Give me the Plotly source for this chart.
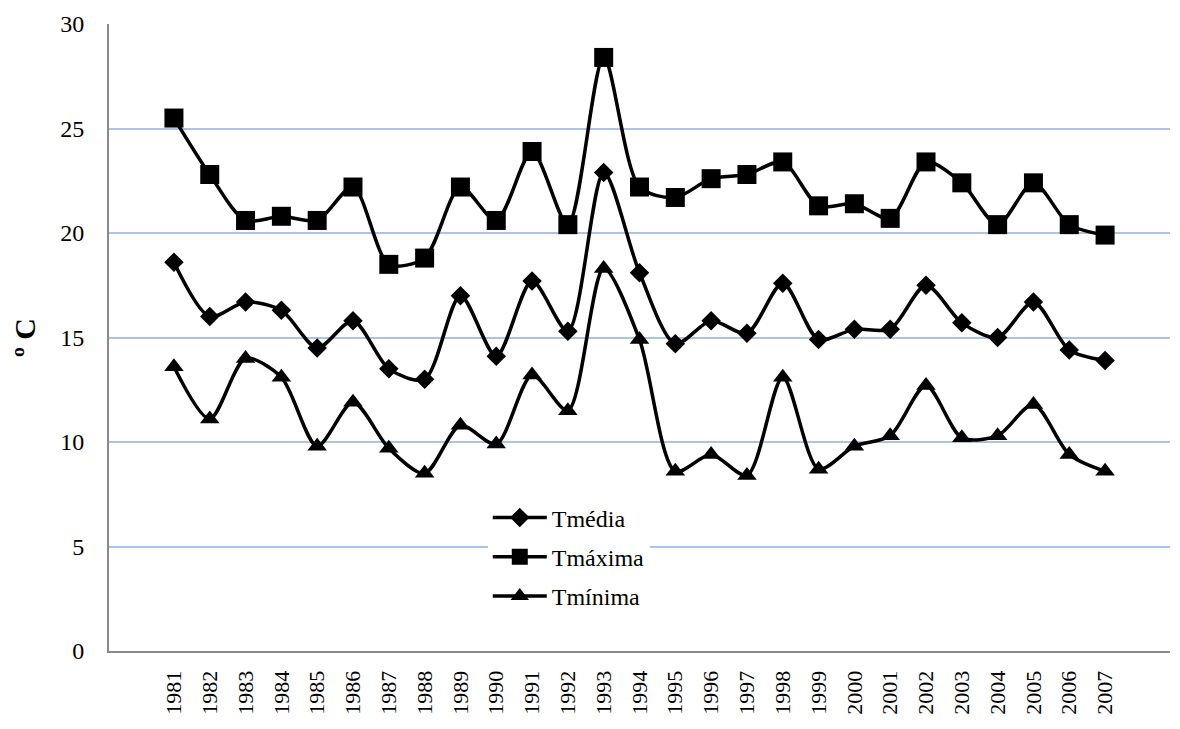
import plotly.graph_objects as go

years = [str(y) for y in range(1981, 2008)]
t_media = [18.6, 16.0, 16.7, 16.3, 14.5, 15.8, 13.5, 13.0, 17.0, 14.1, 17.7, 15.3, 22.9,
           18.1, 14.7, 15.8, 15.2, 17.6, 14.9, 15.4, 15.4, 17.5, 15.7, 15.0, 16.7, 14.4, 13.9]
t_maxima = [25.5, 22.8, 20.6, 20.8, 20.6, 22.2, 18.5, 18.8, 22.2, 20.6, 23.9, 20.4, 28.4,
            22.2, 21.7, 22.6, 22.8, 23.4, 21.3, 21.4, 20.7, 23.4, 22.4, 20.4, 22.4, 20.4, 19.9]
t_minima = [13.6, 11.1, 14.0, 13.1, 9.8, 11.9, 9.7, 8.5, 10.8, 9.9, 13.2, 11.5, 18.3,
            14.9, 8.6, 9.4, 8.4, 13.1, 8.7, 9.8, 10.3, 12.7, 10.2, 10.3, 11.8, 9.4, 8.6]

series = [("Tmédia", t_media, "diamond", 15),
          ("Tmáxima", t_maxima, "square", 19),
          ("Tmínima", t_minima, "triangle-up", 17)]

fig = go.Figure()
for i, (name, vals, sym, size) in enumerate(series):
    fig.add_trace(go.Scatter(
        x=years, y=vals, name=name, mode="lines+markers",
        line=dict(color="black", width=3.5, shape="spline", smoothing=0.8),
        marker=dict(symbol=sym, size=size, color="black"),
        legendgroup=f"g{i}",
    ))

ff = "Liberation Serif"
fig.update_layout(
    width=1164, height=713,
    margin=dict(l=101, r=2, t=16, b=70, autoexpand=False),
    plot_bgcolor="white", paper_bgcolor="white",
    font=dict(family=ff, size=24, color="black"),
    showlegend=True,
    legend=dict(x=0.357, y=0.248, xanchor="left", yanchor="top",
                bgcolor="white", font=dict(size=24, family=ff, color="black"),
                tracegroupgap=5, traceorder="grouped", itemwidth=54),
    xaxis=dict(type="category", tickangle=-90, showgrid=False,
               showline=True, linecolor="#898989", linewidth=2,
               ticks="", ticklabelstandoff=9,
               tickfont=dict(size=22, family=ff, color="black"), automargin=False),
    yaxis=dict(range=[0, 30], dtick=5, showgrid=True, gridcolor="#adc3e6",
               gridwidth=2, showline=True, linecolor="#898989", linewidth=2,
               ticks="", ticklabelstandoff=18,
               tickfont=dict(size=24, family=ff, color="black"), zeroline=False,
               automargin=False,
               title=dict(text="<b>º C</b>", font=dict(size=30, family=ff, color="black"),
                          standoff=36)),
)

fig.write_html("out.html")
